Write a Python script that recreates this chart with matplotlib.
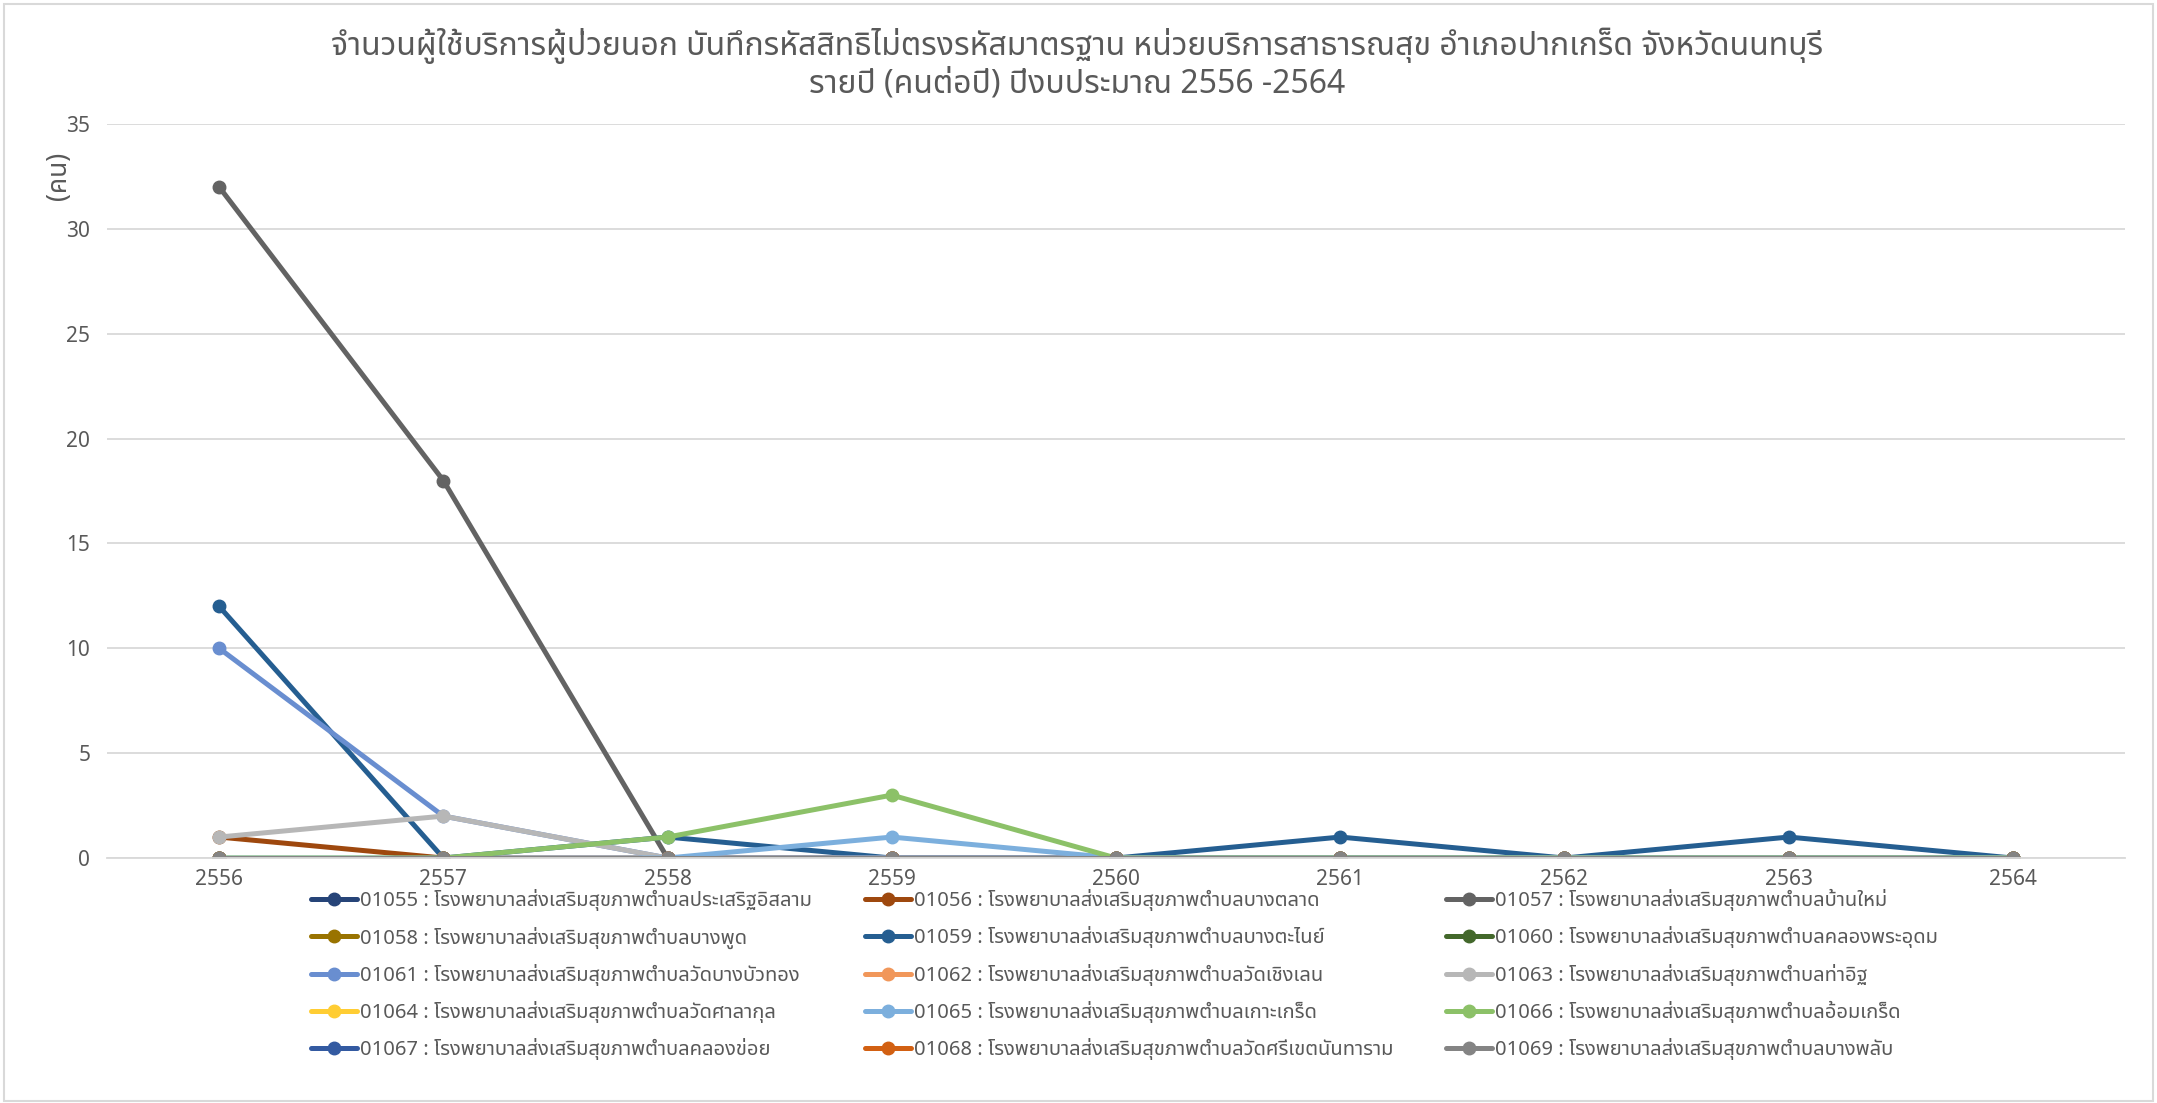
import matplotlib
matplotlib.use("Agg")
import matplotlib.pyplot as plt
from matplotlib.patches import Rectangle

plt.rcParams["font.family"] = ["Noto Sans Thai", "Noto Sans", "DejaVu Sans"]

years = ["2556", "2557", "2558", "2559", "2560", "2561", "2562", "2563", "2564"]

labels = [
    "01055 : โรงพยาบาลส่งเสริมสุขภาพตำบลประเสริฐอิสลาม",
    "01056 : โรงพยาบาลส่งเสริมสุขภาพตำบลบางตลาด",
    "01057 : โรงพยาบาลส่งเสริมสุขภาพตำบลบ้านใหม่",
    "01058 : โรงพยาบาลส่งเสริมสุขภาพตำบลบางพูด",
    "01059 : โรงพยาบาลส่งเสริมสุขภาพตำบลบางตะไนย์",
    "01060 : โรงพยาบาลส่งเสริมสุขภาพตำบลคลองพระอุดม",
    "01061 : โรงพยาบาลส่งเสริมสุขภาพตำบลวัดบางบัวทอง",
    "01062 : โรงพยาบาลส่งเสริมสุขภาพตำบลวัดเชิงเลน",
    "01063 : โรงพยาบาลส่งเสริมสุขภาพตำบลท่าอิฐ",
    "01064 : โรงพยาบาลส่งเสริมสุขภาพตำบลวัดศาลากุล",
    "01065 : โรงพยาบาลส่งเสริมสุขภาพตำบลเกาะเกร็ด",
    "01066 : โรงพยาบาลส่งเสริมสุขภาพตำบลอ้อมเกร็ด",
    "01067 : โรงพยาบาลส่งเสริมสุขภาพตำบลคลองข่อย",
    "01068 : โรงพยาบาลส่งเสริมสุขภาพตำบลวัดศรีเขตนันทาราม",
    "01069 : โรงพยาบาลส่งเสริมสุขภาพตำบลบางพลับ",
]

s01055 = [0, 0, 0, 0, 0, 0, 0, 0, 0]
s01056 = [1, 0, 0, 0, 0, 0, 0, 0, 0]
s01057 = [32, 18, 0, 0, 0, 0, 0, 0, 0]
s01058 = [0, 0, 0, 0, 0, 0, 0, 0, 0]
s01059 = [12, 0, 1, 0, 0, 1, 0, 1, 0]
s01060 = [0, 0, 0, 0, 0, 0, 0, 0, 0]
s01061 = [10, 2, 0, 0, 0, 0, 0, 0, 0]
s01062 = [0, 0, 0, 0, 0, 0, 0, 0, 0]
s01063 = [1, 2, 0, 0, 0, 0, 0, 0, 0]
s01064 = [0, 0, 0, 0, 0, 0, 0, 0, 0]
s01065 = [0, 0, 0, 1, 0, 0, 0, 0, 0]
s01066 = [0, 0, 1, 3, 0, 0, 0, 0, 0]
s01067 = [0, 0, 0, 0, 0, 0, 0, 0, 0]
s01068 = [0, 0, 0, 0, 0, 0, 0, 0, 0]
s01069 = [0, 0, 0, 0, 0, 0, 0, 0, 0]

series = [s01055, s01056, s01057, s01058, s01059, s01060, s01061, s01062,
          s01063, s01064, s01065, s01066, s01067, s01068, s01069]

colors = ["#264478", "#9E480E", "#636363", "#997300", "#255E91", "#43682B",
          "#698ED0", "#F1975A", "#B7B7B7", "#FFCD33", "#7CAFDD", "#8CC168",
          "#335AA1", "#D26012", "#848484"]

title = ("จำนวนผู้ใช้บริการผู้ป่วยนอก บันทึกรหัสสิทธิไม่ตรงรหัสมาตรฐาน หน่วยบริการสาธารณสุข อำเภอปากเกร็ด จังหวัดนนทบุรี\n"
         "รายปี (คนต่อปี) ปีงบประมาณ 2556 -2564")

fig = plt.figure(figsize=(21.57, 11.03), dpi=100)
ax = fig.add_axes([0.0496, 0.2221, 0.9356, 0.6655])

x = list(range(len(years)))
lines = []
for vals, lab, c in zip(series, labels, colors):
    ln, = ax.plot(x, vals, color=c, lw=3.6, marker="o", markersize=9,
                  label=lab, solid_capstyle="round")
    lines.append(ln)

ax.set_xlim(-0.5, len(years) - 0.5)
ax.set_ylim(0, 35)
ax.set_yticks(range(0, 36, 5))
ax.set_xticks(x)
ax.set_xticklabels(years)
ax.grid(axis="y", color="#D9D9D9", lw=1.3)
ax.set_axisbelow(True)
for s in ["top", "right", "left"]:
    ax.spines[s].set_visible(False)
ax.spines["bottom"].set_color("#D9D9D9")
ax.spines["bottom"].set_linewidth(1.3)
ax.tick_params(length=0, labelsize=15, colors="#595959")
ax.tick_params(axis="y", pad=12)
ax.tick_params(axis="x", pad=8)

fig.text(0.4993, 0.975, title, ha="center", va="top", fontsize=23,
         color="#595959", linespacing=1.15)
fig.text(0.0275, 0.841, "(คน)", rotation=90, ha="center", va="center",
         fontsize=19, color="#595959")

# legend filled row by row like Excel
order = [0, 3, 6, 9, 12, 1, 4, 7, 10, 13, 2, 5, 8, 11, 14]
fig.legend([lines[i] for i in order], [labels[i] for i in order],
           loc="upper left", bbox_to_anchor=(0.1358, 0.2105), ncol=3,
           frameon=False, fontsize=14.5, labelcolor="#595959",
           handlelength=2.3, handletextpad=0.15, columnspacing=2.6,
           labelspacing=0.76)

fig.patches.append(Rectangle((0.002, 0.002), 0.996, 0.994, transform=fig.transFigure,
                             fill=False, edgecolor="#D9D9D9", lw=1.5))

fig.savefig("out.png", dpi=100, facecolor="white")
